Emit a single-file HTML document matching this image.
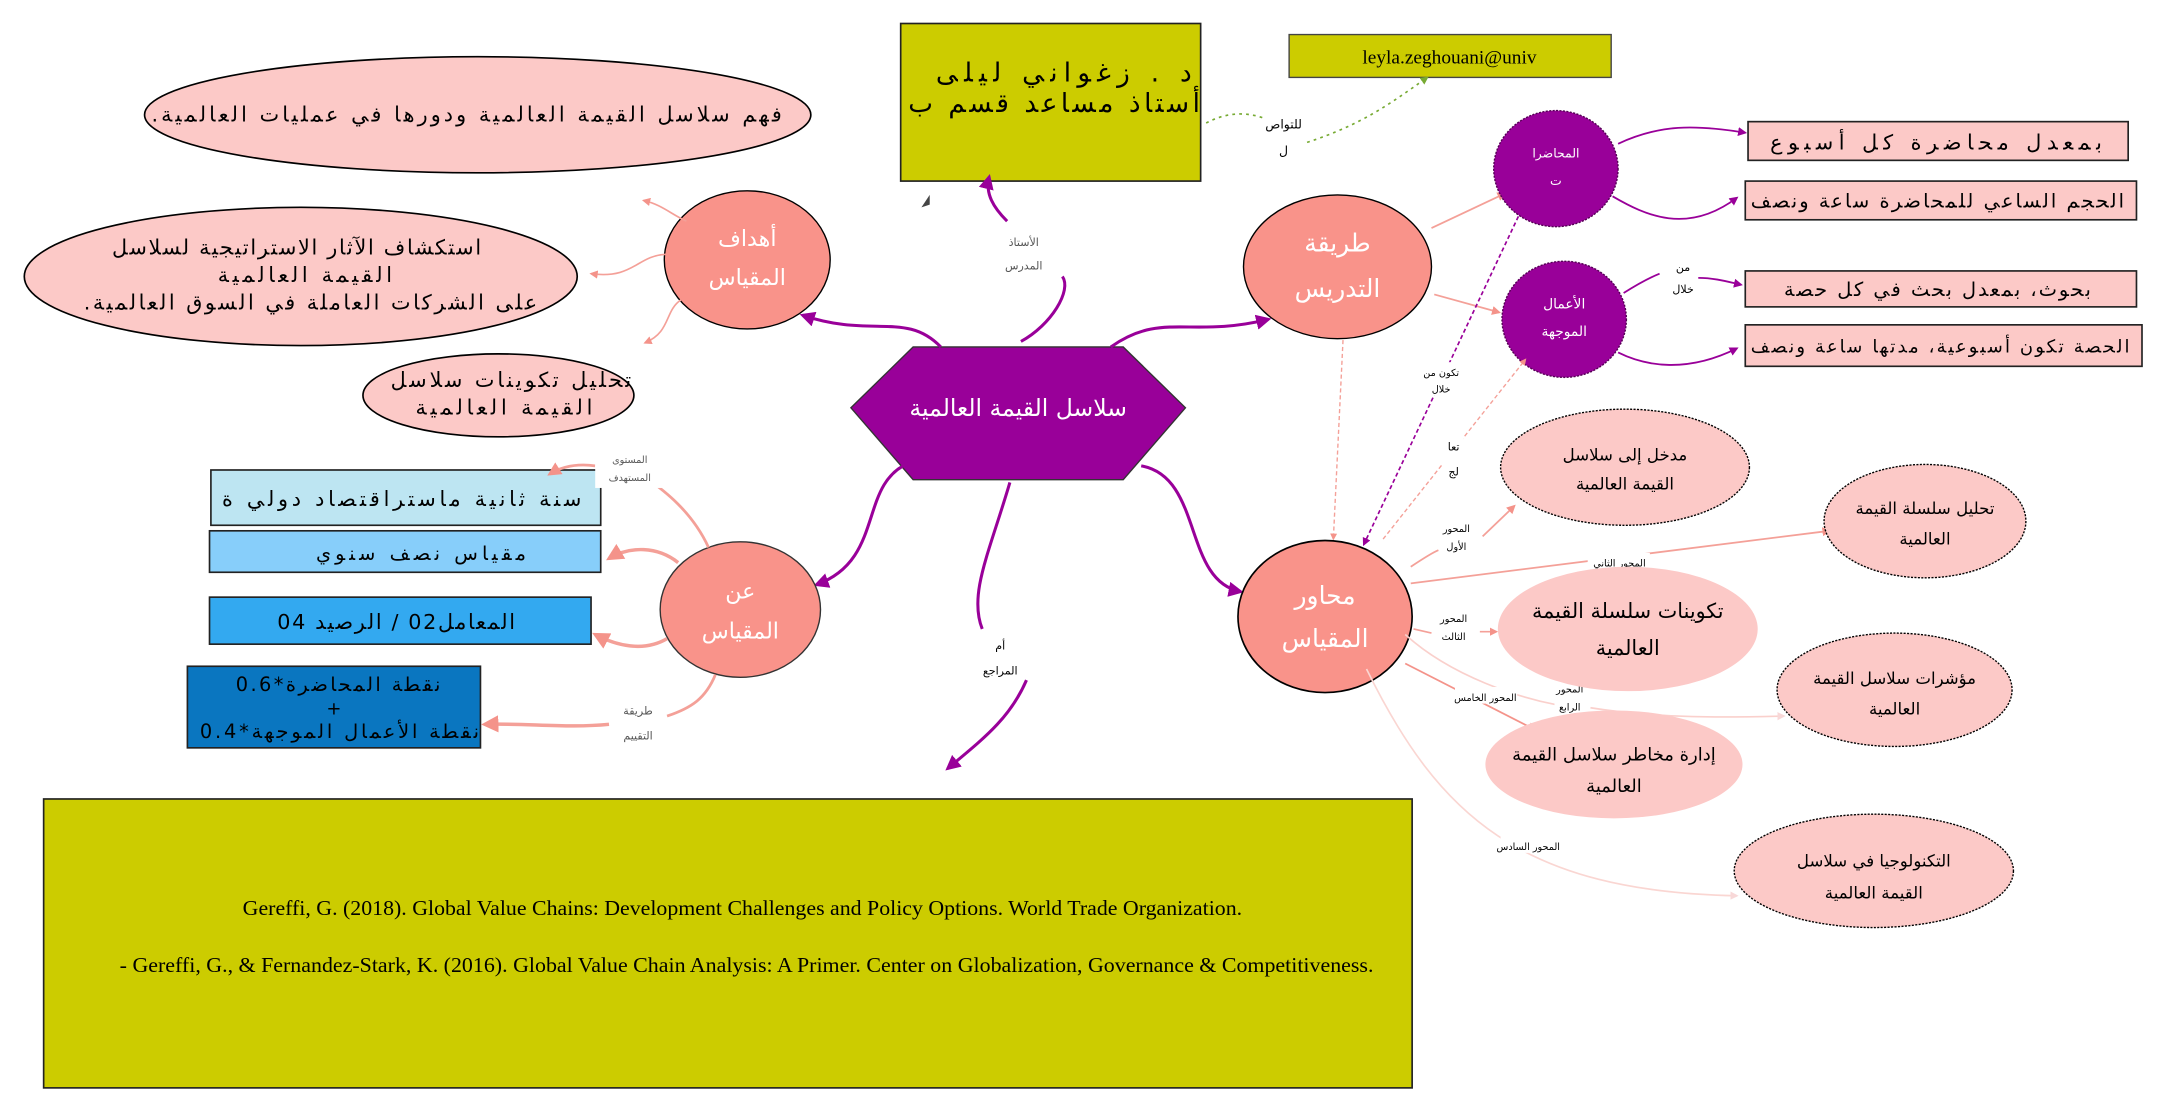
<!DOCTYPE html>
<html><head><meta charset="utf-8"><style>
html,body{margin:0;padding:0;background:#fff;}
svg{display:block;}
text{font-family:"DejaVu Sans","Liberation Sans","Noto Sans CJK SC",sans-serif;}
.ser{font-family:"Liberation Serif",serif;}
</style></head><body>
<svg width="2158" height="1110" viewBox="0 0 1560 803" xmlns="http://www.w3.org/2000/svg">
<defs>
<marker id="ap" viewBox="0 0 10 10" refX="8" refY="5" markerWidth="5" markerHeight="5" orient="auto"><path d="M0,0L10,5L0,10z" fill="#990099"/></marker>
<marker id="ak" viewBox="0 0 10 10" refX="8" refY="5" markerWidth="5" markerHeight="5" orient="auto"><path d="M0,0L10,5L0,10z" fill="#f4938a"/></marker>
<marker id="al" viewBox="0 0 10 10" refX="8" refY="5" markerWidth="5" markerHeight="5" orient="auto"><path d="M0,0L10,5L0,10z" fill="#f8d8d8"/></marker>
<marker id="ag" viewBox="0 0 10 10" refX="8" refY="5" markerWidth="5" markerHeight="5" orient="auto"><path d="M0,0L10,5L0,10z" fill="#77aa33"/></marker>
</defs>

<ellipse cx="345" cy="83" rx="241" ry="42" fill="#fcc9c7" stroke="#000" stroke-width="1.2"/>
<text x="337" y="88" font-size="15" text-anchor="middle" direction="rtl" textLength="456" lengthAdjust="spacing">فهم سلاسل القيمة العالمية ودورها في عمليات العالمية.</text>
<ellipse cx="217" cy="200" rx="200" ry="50" fill="#fcc9c7" stroke="#000" stroke-width="1.2"/>
<text x="214" y="184" font-size="15" text-anchor="middle" textLength="267" lengthAdjust="spacing">استكشاف الآثار الاستراتيجية لسلاسل</text>
<text x="220" y="204" font-size="15" text-anchor="middle" textLength="126" lengthAdjust="spacing">القيمة العالمية</text>
<text x="224" y="224" font-size="15" text-anchor="middle" direction="rtl" textLength="328" lengthAdjust="spacing">على الشركات العاملة في السوق العالمية.</text>
<ellipse cx="360" cy="286" rx="98" ry="30" fill="#fcc9c7" stroke="#000" stroke-width="1.2"/>
<text x="369" y="280" font-size="15" text-anchor="middle" textLength="174" lengthAdjust="spacing">تحليل تكوينات سلاسل</text>
<text x="364" y="300" font-size="15" text-anchor="middle" textLength="128" lengthAdjust="spacing">القيمة العالمية</text>

<ellipse cx="540" cy="188" rx="60" ry="50" fill="#f9938a" stroke="#000" stroke-width="1"/>
<text x="540" y="178" font-size="16" fill="#fff" text-anchor="middle">أهداف</text>
<text x="540" y="206" font-size="16" fill="#fff" text-anchor="middle">المقياس</text>
<path d="M496,160 C485,155 478,148 465,145" fill="none" stroke="#f4a098" stroke-width="1.2" marker-end="url(#ak)"/>
<path d="M481,184 C460,185 458,202 427,198" fill="none" stroke="#f4a098" stroke-width="1.2" marker-end="url(#ak)"/>
<path d="M492,217 C480,225 485,240 466,248" fill="none" stroke="#f4a098" stroke-width="1.2" marker-end="url(#ak)"/>

<rect x="651" y="17" width="217" height="114" fill="#cccc00" stroke="#222" stroke-width="1.2"/>
<text x="769" y="59" font-size="19" text-anchor="middle" textLength="185" lengthAdjust="spacing">د . زغواني ليلى</text>
<text x="762" y="81" font-size="19" text-anchor="middle" textLength="211" lengthAdjust="spacing">أستاذ مساعد قسم ب</text>
<rect x="932" y="25" width="233" height="31" fill="#cccc00" stroke="#444" stroke-width="1"/>
<text x="1048" y="46" font-size="14" text-anchor="middle" class="ser">leyla.zeghouani@univ</text>
<path d="M872,89 C885,82 900,80 915,86" fill="none" stroke="#77aa33" stroke-width="1.2" stroke-dasharray="2,3"/>
<path d="M945,103 C985,90 1005,75 1032,56" fill="none" stroke="#77aa33" stroke-width="1.2" stroke-dasharray="2,3" marker-end="url(#ag)"/>
<text x="928" y="93" font-size="9" text-anchor="middle">للتواص</text>
<text x="928" y="112" font-size="9" text-anchor="middle">ل</text>
<path d="M672,141 L666,150 L672,148 z" fill="#444"/>

<polygon points="615,295 660,251 812,251 857,295 812,347 660,347" fill="#990099" stroke="#333" stroke-width="1"/>
<text x="736" y="301" font-size="17" fill="#fff" text-anchor="middle">سلاسل القيمة العالمية</text>

<path d="M680,251 C655,225 630,245 580,228" fill="none" stroke="#990099" stroke-width="2.2" marker-end="url(#ap)"/>
<path d="M738,247 C760,235 775,210 768,200" fill="none" stroke="#990099" stroke-width="2.2"/>
<path d="M728,160 C718,150 712,140 715,128" fill="none" stroke="#990099" stroke-width="2.2" marker-end="url(#ap)"/>
<text x="740" y="178" font-size="8" fill="#555" text-anchor="middle">الأستاذ</text>
<text x="740" y="195" font-size="8" fill="#555" text-anchor="middle">المدرس</text>
<path d="M803,251 C840,225 860,245 917,231" fill="none" stroke="#990099" stroke-width="2.2" marker-end="url(#ap)"/>
<path d="M657,335 C620,350 640,405 590,423" fill="none" stroke="#990099" stroke-width="2.2" marker-end="url(#ap)"/>
<path d="M825,337 C870,345 855,420 897,428" fill="none" stroke="#990099" stroke-width="2.2" marker-end="url(#ap)"/>
<path d="M730,349 C715,400 700,430 710,455" fill="none" stroke="#990099" stroke-width="2.2"/>
<path d="M742,492 C730,520 710,535 685,556" fill="none" stroke="#990099" stroke-width="2.2" marker-end="url(#ap)"/>
<text x="723" y="470" font-size="8" text-anchor="middle">أم</text>
<text x="723" y="488" font-size="8" text-anchor="middle">المراجع</text>

<rect x="152" y="340" width="282" height="40" fill="#bde5f2" stroke="#222" stroke-width="1.2"/>
<text x="290" y="366" font-size="15" text-anchor="middle" textLength="260" lengthAdjust="spacing">سنة ثانية ماستراقتصاد دولي ة</text>
<rect x="151" y="384" width="283" height="30" fill="#87cefa" stroke="#222" stroke-width="1.2"/>
<text x="304" y="405" font-size="14" text-anchor="middle" textLength="152" lengthAdjust="spacing">مقياس نصف سنوي</text>
<rect x="151" y="432" width="276" height="34" fill="#33a9f0" stroke="#222" stroke-width="1.2"/>
<text x="286" y="455" font-size="15" text-anchor="middle" textLength="172" lengthAdjust="spacing">المعامل02 / الرصيد 04</text>
<rect x="135" y="482" width="212" height="59" fill="#0a76c0" stroke="#222" stroke-width="1.2"/>
<text x="244" y="500" font-size="14" text-anchor="middle" textLength="148" lengthAdjust="spacing">نقطة المحاضرة*0.6</text>
<text x="241" y="517" font-size="13" text-anchor="middle">+</text>
<text x="245" y="534" font-size="14" text-anchor="middle" textLength="202" lengthAdjust="spacing">نقطة الأعمال الموجهة*0.4</text>

<ellipse cx="535" cy="441" rx="58" ry="49" fill="#f9938a" stroke="#333" stroke-width="1"/>
<text x="535" y="433" font-size="16" fill="#fff" text-anchor="middle">عن</text>
<text x="535" y="462" font-size="16" fill="#fff" text-anchor="middle">المقياس</text>
<path d="M512,396 C500,370 480,355 466,345" fill="none" stroke="#f4a098" stroke-width="2"/>
<path d="M430,337 C415,335 405,338 397,343" fill="none" stroke="#f4a098" stroke-width="2" marker-end="url(#ak)"/>
<rect x="430" y="325" width="50" height="28" fill="#fff"/>
<text x="455" y="335" font-size="7" fill="#555" text-anchor="middle">المستوى</text>
<text x="455" y="348" font-size="7" fill="#555" text-anchor="middle">المستهدف</text>
<path d="M490,407 C475,395 455,395 440,404" fill="none" stroke="#f4a098" stroke-width="2.5" marker-end="url(#ak)"/>
<path d="M482,462 C465,472 445,467 430,459" fill="none" stroke="#f4a098" stroke-width="2.5" marker-end="url(#ak)"/>
<path d="M517,488 C510,505 500,512 482,518" fill="none" stroke="#f4a098" stroke-width="2"/>
<path d="M440,524 C410,527 380,523 350,524" fill="none" stroke="#f4a098" stroke-width="2.5" marker-end="url(#ak)"/>
<text x="461" y="517" font-size="8" fill="#555" text-anchor="middle">طريقة</text>
<text x="461" y="535" font-size="8" fill="#555" text-anchor="middle">التقييم</text>

<rect x="31" y="578" width="990" height="209" fill="#cccc00" stroke="#222" stroke-width="1.2"/>
<text x="175" y="662" font-size="15" class="ser" textLength="723" lengthAdjust="spacingAndGlyphs">Gereffi, G. (2018). Global Value Chains: Development Challenges and Policy Options. World Trade Organization.</text>
<text x="86" y="703" font-size="15" class="ser" textLength="907" lengthAdjust="spacingAndGlyphs">-  Gereffi, G., &amp; Fernandez-Stark, K. (2016). Global Value Chain Analysis: A Primer. Center on Globalization, Governance &amp; Competitiveness.</text>

<ellipse cx="967" cy="193" rx="68" ry="52" fill="#f9938a" stroke="#000" stroke-width="1"/>
<text x="967" y="182" font-size="18" fill="#fff" text-anchor="middle">طريقة</text>
<text x="967" y="215" font-size="18" fill="#fff" text-anchor="middle">التدريس</text>
<path d="M1035,165 L1088,140" fill="none" stroke="#f4a098" stroke-width="1.3" marker-end="url(#ak)"/>
<path d="M1037,213 L1084,226" fill="none" stroke="#f4a098" stroke-width="1.3" marker-end="url(#ak)"/>

<ellipse cx="1125" cy="122" rx="45" ry="42" fill="#990099" stroke="#550055" stroke-width="1" stroke-dasharray="1.5,1"/>
<text x="1125" y="114" font-size="9" fill="#fff" text-anchor="middle">المحاضرا</text>
<text x="1125" y="134" font-size="9" fill="#fff" text-anchor="middle">ت</text>
<ellipse cx="1131" cy="231" rx="45" ry="42" fill="#990099" stroke="#550055" stroke-width="1" stroke-dasharray="1.5,1"/>
<text x="1131" y="223" font-size="10" fill="#fff" text-anchor="middle">الأعمال</text>
<text x="1131" y="243" font-size="10" fill="#fff" text-anchor="middle">الموجهة</text>

<path d="M1170,104 C1200,90 1225,90 1262,96" fill="none" stroke="#990099" stroke-width="1.3" marker-end="url(#ap)"/>
<path d="M1166,142 C1190,156 1220,170 1256,143" fill="none" stroke="#990099" stroke-width="1.3" marker-end="url(#ap)"/>
<path d="M1174,212 C1185,205 1195,200 1200,198" fill="none" stroke="#990099" stroke-width="1.3"/>
<path d="M1228,201 C1240,201 1250,204 1259,206" fill="none" stroke="#990099" stroke-width="1.3" marker-end="url(#ap)"/>
<text x="1217" y="196" font-size="8" text-anchor="middle">من</text>
<text x="1217" y="212" font-size="8" text-anchor="middle">خلال</text>
<path d="M1170,255 C1190,265 1220,270 1256,252" fill="none" stroke="#990099" stroke-width="1.3" marker-end="url(#ap)"/>

<rect x="1264" y="88" width="275" height="28" fill="#fcc9c7" stroke="#222" stroke-width="1.2"/>
<text x="1400" y="108" font-size="15" text-anchor="middle" textLength="240" lengthAdjust="spacing">بمعدل محاضرة كل أسبوع</text>
<rect x="1262" y="131" width="283" height="28" fill="#fcc9c7" stroke="#222" stroke-width="1.2"/>
<text x="1401" y="150" font-size="14" text-anchor="middle" textLength="270" lengthAdjust="spacing">الحجم الساعي للمحاضرة ساعة ونصف</text>
<rect x="1262" y="196" width="283" height="26" fill="#fcc9c7" stroke="#222" stroke-width="1.2"/>
<text x="1401" y="214" font-size="14" text-anchor="middle" textLength="222" lengthAdjust="spacing">بحوث، بمعدل بحث في كل حصة</text>
<rect x="1262" y="235" width="287" height="30" fill="#fcc9c7" stroke="#222" stroke-width="1.2"/>
<text x="1403" y="255" font-size="13" text-anchor="middle" textLength="274" lengthAdjust="spacing">الحصة تكون أسبوعية، مدتها ساعة ونصف</text>

<path d="M971,246 L964,390" fill="none" stroke="#f4a098" stroke-width="1" stroke-dasharray="3,2" marker-end="url(#ak)"/>
<path d="M1100,152 L986,394" fill="none" stroke="#990099" stroke-width="1.2" stroke-dasharray="3,2" marker-end="url(#ap)"/>
<path d="M1000,390 L1103,260" fill="none" stroke="#f4a098" stroke-width="1" stroke-dasharray="3,2" marker-end="url(#ak)"/>
<rect x="1025" y="262" width="30" height="24" fill="#fff"/>
<text x="1042" y="272" font-size="7" text-anchor="middle">تكون من</text>
<text x="1042" y="284" font-size="7" text-anchor="middle">خلال</text>
<rect x="1043" y="313" width="15" height="36" fill="#fff"/>
<text x="1051" y="326" font-size="8" text-anchor="middle">تعا</text>
<text x="1051" y="344" font-size="8" text-anchor="middle">لج</text>

<ellipse cx="958" cy="446" rx="63" ry="55" fill="#f9938a" stroke="#000" stroke-width="1.2"/>
<text x="958" y="437" font-size="18" fill="#fff" text-anchor="middle">محاور</text>
<text x="958" y="468" font-size="18" fill="#fff" text-anchor="middle">المقياس</text>

<path d="M1020,410 C1035,400 1040,398 1040,398" fill="none" stroke="#f4a098" stroke-width="1.3"/>
<path d="M1072,388 L1095,366" fill="none" stroke="#f4a098" stroke-width="1.3" marker-end="url(#ak)"/>
<text x="1053" y="385" font-size="7" text-anchor="middle">المحور</text>
<text x="1053" y="398" font-size="7" text-anchor="middle">الأول</text>
<path d="M1020,422 L1323,384" fill="none" stroke="#f4a098" stroke-width="1.3" marker-end="url(#ak)"/>
<rect x="1148" y="400" width="45" height="14" fill="#fff"/>
<text x="1171" y="410" font-size="7" text-anchor="middle">المحور الثاني</text>
<path d="M1022,455 L1035,458" fill="none" stroke="#f4a098" stroke-width="1.2"/>
<path d="M1070,457 L1082,457" fill="none" stroke="#f4a098" stroke-width="1.2" marker-end="url(#ak)"/>
<text x="1051" y="450" font-size="7" text-anchor="middle">المحور</text>
<text x="1051" y="463" font-size="7" text-anchor="middle">الثالث</text>
<path d="M1016,459 C1050,490 1100,505 1126,510" fill="none" stroke="#fad0cc" stroke-width="1.2"/>
<path d="M1150,512 C1200,520 1250,519 1290,518" fill="none" stroke="#fad0cc" stroke-width="1.2" marker-end="url(#al)"/>
<rect x="1124" y="490" width="25" height="28" fill="#fff"/>
<text x="1135" y="501" font-size="7" text-anchor="middle">المحور</text>
<text x="1135" y="514" font-size="7" text-anchor="middle">الرابع</text>
<path d="M1016,480 L1110,528" fill="none" stroke="#f4938a" stroke-width="1.3" marker-end="url(#ak)"/>
<rect x="1052" y="497" width="45" height="12" fill="#fff"/>
<text x="1074" y="507" font-size="7" text-anchor="middle">المحور الخامس</text>
<path d="M988,484 C1040,590 1100,645 1256,648" fill="none" stroke="#fad6d2" stroke-width="1.2" marker-end="url(#al)"/>
<rect x="1085" y="605" width="42" height="12" fill="#fff"/>
<text x="1105" y="615" font-size="7" text-anchor="middle">المحور السادس</text>

<ellipse cx="1175" cy="338" rx="90" ry="42" fill="#fcc9c7" stroke="#000" stroke-width="1" stroke-dasharray="1.5,1"/>
<text x="1175" y="333" font-size="12" text-anchor="middle">مدخل إلى سلاسل</text>
<text x="1175" y="354" font-size="12" text-anchor="middle">القيمة العالمية</text>
<ellipse cx="1392" cy="377" rx="73" ry="41" fill="#fcc9c7" stroke="#000" stroke-width="1" stroke-dasharray="1.5,1"/>
<text x="1392" y="372" font-size="12" text-anchor="middle">تحليل سلسلة القيمة</text>
<text x="1392" y="394" font-size="12" text-anchor="middle">العالمية</text>
<ellipse cx="1177" cy="455" rx="94" ry="45" fill="#fcc9c7"/>
<text x="1177" y="447" font-size="15" text-anchor="middle">تكوينات سلسلة القيمة</text>
<text x="1177" y="474" font-size="15" text-anchor="middle">العالمية</text>
<ellipse cx="1370" cy="499" rx="85" ry="41" fill="#fcc9c7" stroke="#000" stroke-width="1" stroke-dasharray="1.5,1"/>
<text x="1370" y="495" font-size="12" text-anchor="middle">مؤشرات سلاسل القيمة</text>
<text x="1370" y="517" font-size="12" text-anchor="middle">العالمية</text>
<ellipse cx="1167" cy="553" rx="93" ry="39" fill="#fcc9c7"/>
<text x="1167" y="550" font-size="13" text-anchor="middle">إدارة مخاطر سلاسل القيمة</text>
<text x="1167" y="573" font-size="13" text-anchor="middle">العالمية</text>
<ellipse cx="1355" cy="630" rx="101" ry="41" fill="#fcc9c7" stroke="#000" stroke-width="1" stroke-dasharray="1.5,1"/>
<text x="1355" y="627" font-size="12" text-anchor="middle">التكنولوجيا في سلاسل</text>
<text x="1355" y="650" font-size="12" text-anchor="middle">القيمة العالمية</text>
</svg>
</body></html>
